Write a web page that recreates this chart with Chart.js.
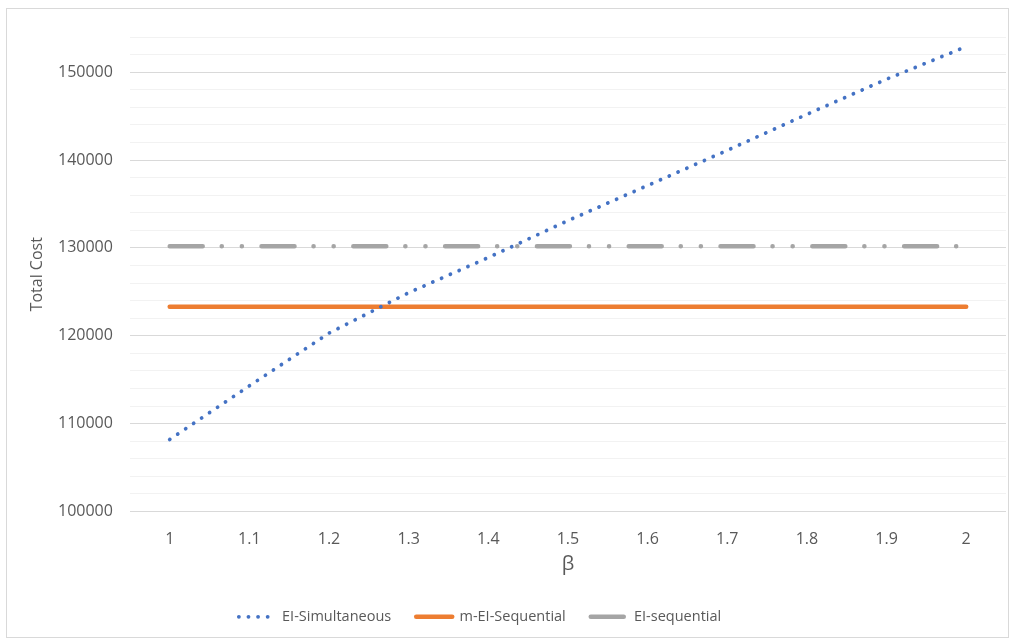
<!DOCTYPE html>
<html>
<head>
<meta charset="utf-8">
<script src="https://cdn.jsdelivr.net/npm/chart.js@4.4.1/dist/chart.umd.min.js"></script>
<style>
  body { margin: 0; background: #fff; }
  #quadro { position: absolute; left: 6px; top: 8px; width: 1001px; height: 628px; border: 1px solid #d9d9d9; }
  canvas { display: block; }
</style>
</head>
<body>
<div id="quadro"><canvas id="graficoCusto" width="1001" height="628"></canvas></div>
<script>
// valores de beta (eixo x)
const betas = ['1', '1.1', '1.2', '1.3', '1.4', '1.5', '1.6', '1.7', '1.8', '1.9', '2'];

// custo total de cada estratégia
const eiSimultaneous = [108200, 114300, 120300, 124900, 128900, 133100, 137100, 141100, 145200, 149200, 152900];
const mEiSequential = [123300, 123300, 123300, 123300, 123300, 123300, 123300, 123300, 123300, 123300, 123300];
const eiSequential = [130200, 130200, 130200, 130200, 130200, 130200, 130200, 130200, 130200, 130200, 130200];

// eixo y: 100000 a 154000, linhas a cada 2000, rótulos a cada 10000
const yMin = 100000;
const yMax = 154000;
const yPasso = 2000;
const yRotulo = 10000;

Chart.defaults.font.family = "'Open Sans', sans-serif";
Chart.defaults.color = '#595959';

// empurra a legenda um pouco para a esquerda e para cima
const ajusteLegenda = {
  id: 'ajusteLegenda',
  afterLayout(chart) {
    chart.legend.left -= 26.5;
    chart.legend.right -= 26.5;
    chart.legend.top -= 3;
    chart.legend.bottom -= 3;
  }
};

new Chart(document.getElementById('graficoCusto'), {
  type: 'line',
  data: {
    labels: betas,
    datasets: [{
      label: 'EI-Simultaneous',
      data: eiSimultaneous,
      borderColor: '#4472c4',
      backgroundColor: '#4472c4',
      borderWidth: 3.75,
      borderDash: [0.1, 9.5], // pontilhado
      borderCapStyle: 'round'
    }, {
      label: 'm-EI-Sequential',
      data: mEiSequential,
      borderColor: '#ed7d31',
      backgroundColor: '#ed7d31',
      borderWidth: 4.5,
      borderCapStyle: 'round'
    }, {
      label: 'EI-sequential',
      data: eiSequential,
      borderColor: '#a5a5a5',
      backgroundColor: '#a5a5a5',
      borderWidth: 4.5,
      borderDash: [33, 19, 0.1, 20, 0.1, 19.6], // traço-ponto-ponto
      borderCapStyle: 'round'
    }]
  },
  options: {
    responsive: false,
    animation: false,
    elements: {
      point: { radius: 0 },
      line: { tension: 0 }
    },
    layout: {
      padding: { left: 0, right: 2, top: 28, bottom: 0 }
    },
    scales: {
      x: {
        offset: true,
        // marcas invisíveis só para dar o espaço até os rótulos
        grid: { display: false, drawTicks: true, tickLength: 18, tickColor: 'transparent' },
        border: { display: false },
        ticks: { padding: 0, font: { size: 16 } },
        title: {
          display: true,
          text: 'β',
          font: { size: 20 },
          padding: { top: 3.8, bottom: 11 }
        }
      },
      y: {
        min: yMin,
        max: yMax,
        border: { display: false },
        grid: {
          drawTicks: true,
          tickLength: 17,
          tickColor: 'transparent',
          color: (ctx) => ctx.tick && ctx.tick.value % yRotulo === 0 ? '#d9d9d9' : '#f2f2f2'
        },
        ticks: {
          stepSize: yPasso,
          autoSkip: false,
          padding: 0,
          font: { size: 16 },
          callback: (v) => v % yRotulo === 0 ? String(v) : ''
        },
        title: {
          display: true,
          text: 'Total Cost',
          font: { size: 16 },
          padding: { top: 21, bottom: 10.8 }
        }
      }
    },
    plugins: {
      tooltip: { enabled: false },
      legend: {
        position: 'bottom',
        maxHeight: 57,
        labels: {
          usePointStyle: true,
          pointStyle: 'line',
          pointStyleWidth: 36,
          padding: 25,
          font: { size: 14.5 },
          color: '#595959',
          // a legenda usa o mesmo tracejado das linhas
          generateLabels: (chart) => {
            const itens = Chart.defaults.plugins.legend.labels.generateLabels(chart);
            itens.forEach((item) => {
              const ds = chart.data.datasets[item.datasetIndex];
              item.lineDash = ds.borderDash || [];
              item.lineCap = ds.borderCapStyle;
              item.lineWidth = ds.borderWidth;
            });
            return itens;
          }
        }
      }
    }
  },
  plugins: [ajusteLegenda]
});
</script>
</body>
</html>
